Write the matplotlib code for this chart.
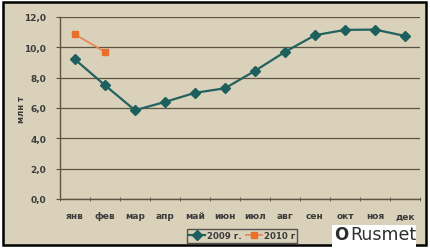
import matplotlib.pyplot as plt
from matplotlib.patches import Rectangle

months = ['янв', 'фев', 'мар', 'апр', 'май', 'июн', 'июл', 'авг', 'сен', 'окт', 'ноя', 'дек']
y2009 = [9.2, 7.5, 5.85, 6.4, 7.0, 7.3, 8.45, 9.7, 10.8, 11.15, 11.17, 10.75]
y2010 = [10.85, 9.7]
yticks = [0, 2, 4, 6, 8, 10, 12]

bg = '#dad1ba'
grid_c = '#5e5446'
txt_c = '#3c3c3c'

fig = plt.figure(figsize=(4.3, 2.53), dpi=100)
fig.patch.set_facecolor('white')
# chart frame
fig.patches.append(Rectangle((3 / 430, 1 - 246 / 253), 423 / 430, 243 / 253,
                             transform=fig.transFigure, facecolor=bg,
                             edgecolor='black', linewidth=1.8, zorder=-10))

ax = fig.add_axes([60 / 430, 1 - 200 / 253, 360 / 430, 182 / 253])
ax.patch.set_alpha(0)

x = range(len(months))
ax.plot(x, y2009, color='#23625e', linewidth=1.6, marker='D', markersize=5,
        markerfacecolor='#1c5f5c', markeredgecolor='#1c5f5c', label='2009 г.', zorder=3)
ax.plot(range(len(y2010)), y2010, color='#e8844e', linewidth=1.2, marker='s', markersize=5,
        markerfacecolor='#e8702a', markeredgecolor='#e8702a', label='2010 г', zorder=3)

ax.set_xlim(-0.5, 11.5)
ax.set_ylim(0, 12)
ax.set_yticks(yticks)
ax.set_yticklabels([f'{v:.1f}'.replace('.', ',') for v in yticks],
                   fontsize=6.5, fontweight='bold', color=txt_c)
ax.set_xticks(list(x))
ax.set_xticklabels(months, fontsize=6.5, fontweight='bold', color=txt_c)
ax.set_xticks([i + 0.5 for i in range(-1, 12)], minor=True)
ax.tick_params(axis='x', which='major', length=0, pad=9)
ax.tick_params(axis='x', which='minor', length=3, color=grid_c, direction='inout')
ax.tick_params(axis='y', length=3, color=grid_c, pad=7)
ax.grid(axis='y', color=grid_c, linewidth=0.9)
ax.set_axisbelow(True)
for s in ['top', 'right']:
    ax.spines[s].set_visible(False)
for s in ['left', 'bottom']:
    ax.spines[s].set_color(grid_c)
    ax.spines[s].set_linewidth(1.0)

fig.text(22 / 430, 1 - 110 / 253, 'млн т', rotation=90, fontsize=6,
         fontweight='bold', color=txt_c, ha='center', va='center')

leg = fig.legend(loc='center', bbox_to_anchor=(242 / 430, 1 - 237 / 253), ncol=2,
                 fontsize=6.2, frameon=True, fancybox=False, handlelength=1.9,
                 columnspacing=0.5, handletextpad=0.2, borderpad=0.25)
leg.get_frame().set_edgecolor('#333333')
leg.get_frame().set_facecolor(bg)
for t in leg.get_texts():
    t.set_fontweight('bold')
    t.set_color(txt_c)

# logo
fig.patches.append(Rectangle((332 / 430, 1 - 248 / 253), 84 / 430, 22 / 253,
                             transform=fig.transFigure, facecolor='white',
                             edgecolor='none', zorder=5))
fig.text(341 / 430, 1 - 235 / 253, 'O', fontsize=12, fontweight='bold', color='#2e2e2e',
         ha='center', va='center', zorder=6)
fig.text(350 / 430, 1 - 235 / 253, 'Rusmet', fontsize=12.5, color='#2e2e2e',
         ha='left', va='center', zorder=6)

fig.savefig('out.png', dpi=100, facecolor=fig.get_facecolor())
